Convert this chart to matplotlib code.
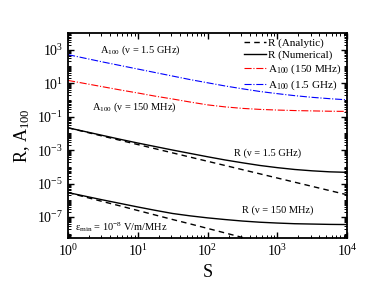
import numpy as np
import matplotlib
matplotlib.use("Agg")
import matplotlib.pyplot as plt
from matplotlib.ticker import LogLocator, NullFormatter, FixedLocator

plt.rcParams['font.family'] = ['Liberation Serif', 'DejaVu Serif']
plt.rcParams['mathtext.fontset'] = 'custom'
plt.rcParams['mathtext.rm'] = 'Liberation Serif'
plt.rcParams['mathtext.it'] = 'Liberation Serif:italic'

# log10(S) and log10 of each curve
log_s = [0, 0.25, 0.5, 0.75, 1, 1.25, 1.5, 1.75, 2, 2.25, 2.5, 2.75, 3, 3.25, 3.5, 3.75, 4]
r_ghz_num = [-1.67, -1.9, -2.13, -2.36, -2.58, -2.79, -3.0, -3.2, -3.4,
             -3.59, -3.76, -3.92, -4.05, -4.16, -4.24, -4.3, -4.33]
r_ghz_ana = [-1.67, -1.92, -2.17, -2.42, -2.67, -2.92, -3.17, -3.42, -3.67,
             -3.92, -4.17, -4.42, -4.67, -4.92, -5.17, -5.42, -5.67]
r_mhz_num = [-5.54, -5.76, -5.98, -6.19, -6.4, -6.6, -6.79, -6.93, -7.05,
             -7.15, -7.24, -7.31, -7.36, -7.4, -7.42, -7.44, -7.45]
r_mhz_ana = [-5.54, -5.81, -6.08, -6.34, -6.61, -6.88, -7.15, -7.41, -7.68,
             -7.95, -8.22, -8.48, -8.75, -9.02, -9.29, -9.55, -9.82]
a_mhz = [1.16, 0.97, 0.78, 0.59, 0.41, 0.22, 0.05, -0.13, -0.3,
         -0.42, -0.51, -0.57, -0.61, -0.64, -0.66, -0.68, -0.69]
a_ghz = [2.7, 2.48, 2.26, 2.05, 1.84, 1.63, 1.42, 1.21, 1.02,
         0.83, 0.66, 0.5, 0.37, 0.25, 0.15, 0.07, 0.0]

s = 10 ** np.array(log_s)
p = lambda v: 10 ** np.array(v)

fig = plt.figure(figsize=(3.74, 2.86), dpi=100)
ax = fig.add_axes([0.182, 0.168, 0.746, 0.717])

ax.plot(s, p(r_ghz_ana), 'k--', lw=1.0, dashes=(4, 3), label='R (Analytic)')
ax.plot(s, p(r_ghz_num), 'k-', lw=1.0, label='R (Numerical)')
ax.plot(s, p(a_mhz), '-.', color='#ff0000', lw=0.8, label='A$_{100}$ (150 MHz)')
ax.plot(s, p(a_ghz), '-.', color='#0000ff', lw=0.8, label='A$_{100}$ (1.5 GHz)')
ax.plot(s, p(r_mhz_ana), 'k--', lw=1.0, dashes=(4, 3))
ax.plot(s, p(r_mhz_num), 'k-', lw=1.0)

ax.set_xscale('log')
ax.set_yscale('log')
ax.set_xlim(1, 1e4)
ax.set_ylim(10 ** -8.25, 1e4)

ax.yaxis.set_major_locator(FixedLocator([10.0 ** k for k in range(-7, 4, 2)]))
ax.yaxis.set_minor_locator(FixedLocator([m * 10.0 ** k for k in range(-9, 5) for m in range(1, 10)]))
ax.yaxis.set_minor_formatter(NullFormatter())
ax.xaxis.set_minor_locator(LogLocator(base=10, subs=np.arange(2, 10), numticks=20))
ax.xaxis.set_minor_formatter(NullFormatter())

ax.tick_params(which='both', direction='in', top=True, right=True, labelsize=10)
ax.tick_params(which='major', length=4, width=1.0)
ax.tick_params(which='minor', length=2, width=0.7)
for sp in ax.spines.values():
    sp.set_linewidth(1.3)

ax.set_xlabel('S', fontsize=13)
ax.set_ylabel('R, A$_{100}$', fontsize=13)

kw = dict(transform=ax.transAxes, fontsize=7.5, ha='left', va='center')
ax.text(0.115, 0.917, 'A$_{100}$ (ν = 1.5 GHz)', **kw)
ax.text(0.086, 0.639, 'A$_{100}$ (ν = 150 MHz)', **kw)
ax.text(0.595, 0.415, 'R (ν = 1.5 GHz)', **kw)
ax.text(0.624, 0.137, 'R (ν = 150 MHz)', **kw)
ax.text(0.025, 0.055, r'ε$_{\rm min}$ = 10$^{-8}$ V/m/MHz', **kw)

ax.legend(loc='upper right', frameon=False, fontsize=8, handlelength=2.0,
          handletextpad=0.15, labelspacing=0.22, borderaxespad=0.05)

fig.savefig('out.png', dpi=100)
